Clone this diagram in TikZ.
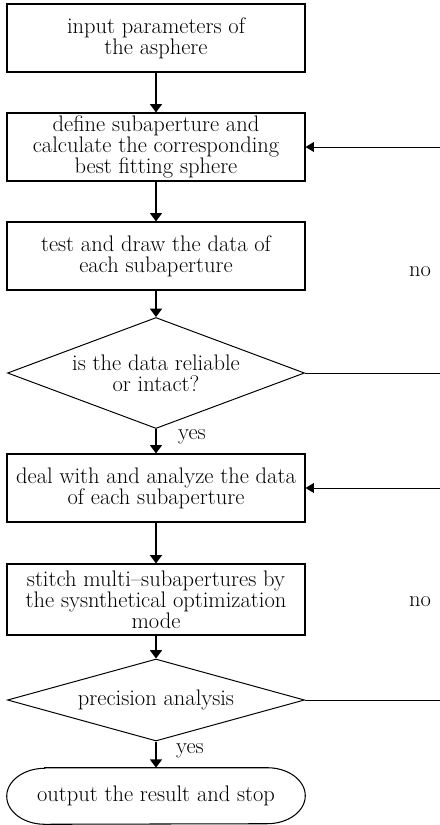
\documentclass[tikz,border=0pt]{standalone}
\usepackage{amsmath}
\usetikzlibrary{shapes,positioning,calc,arrows.meta}

\def\px{0.025cm} % one unit of the grid

\tikzset{
  flowtext/.style={font=\fontsize{16}{15}\selectfont, align=center},
  procbox/.style={flowtext, draw, line width=0.75pt, inner sep=0pt,
    minimum width=298*\px, minimum height=68*\px},
  decision/.style={flowtext, diamond, draw, line width=0.7pt, inner sep=0pt,
    minimum width=297*\px, aspect=2.7},
  terminal/.style={flowtext, inner sep=0pt, minimum width=298*\px, minimum height=56*\px},
  flow/.style={line width=1.4pt, -{Triangle[length=6pt,width=8.5pt]}},
  back/.style={line width=0.7pt, -{Triangle[length=6pt,width=7pt]}},
  tag/.style={font=\fontsize{16}{15}\selectfont}
}

\begin{document}
\begin{tikzpicture}[x=\px, y=-\px]
  \useasboundingbox[fill=white] (0,0) rectangle (440,825);

  % main chain
  \node[procbox] (input) at (156,38) {input parameters of\\the asphere};
  \node[procbox] (define) at (156,147) {define subaperture and\\calculate the corresponding\\best fitting sphere};
  \node[procbox] (test) at (156,256) {test and draw the data of\\each subaperture};
  \node[decision, minimum height=111*\px] (reliable) at (156,373) {is the data reliable\\or intact?};
  \node[procbox] (deal) at (156,488) {deal with and analyze the data\\of each subaperture};
  \node[procbox, minimum height=71*\px] (stitch) at (156,599.5) {stitch multi--subapertures by\\the sysnthetical optimization\\mode};
  \node[decision, minimum height=82*\px] (precision) at (156,700) {precision analysis};
  \node[terminal] (output) at (156,796) {output the result and stop};

  % oval outline of the end node
  \draw[line width=0.75pt] ([xshift=38*\px]output.north west) -- ([xshift=-38*\px]output.north east)
    arc[start angle=90, end angle=-90, x radius=38*\px, y radius=28*\px]
    -- ([xshift=38*\px]output.south west)
    arc[start angle=270, end angle=90, x radius=38*\px, y radius=28*\px] -- cycle;

  \draw[flow] (input) -- (define);
  \draw[flow] (define) -- (test);
  \draw[flow] (test) -- (reliable);
  \draw[flow] (reliable) -- (deal);
  \draw[flow] (deal) -- (stitch);
  \draw[flow] (stitch) -- (precision);
  \draw[flow] (precision) -- (output);

  \node[tag] (yes1) at (192,437) {yes};
  \node[tag] (yes2) at (190,751) {yes};
  \node[tag] (no1) at (420,272) {no};
  \node[tag] (no2) at (420,602) {no};

  % feedback loops, running off to the right
  \begin{scope}
    \clip (0,0) rectangle (440,825);
    \draw[back] (reliable.east) -- ++(160,0) |- (define.east);
    \draw[back] (precision.east) -- ++(160,0) |- (deal.east);
  \end{scope}
\end{tikzpicture}
\end{document}
